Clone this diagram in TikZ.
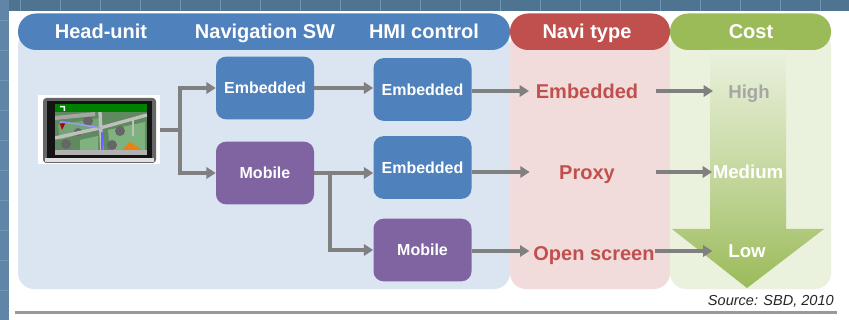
\documentclass[tikz,border=0pt]{standalone}
\usepackage{fontspec}
\setmainfont{Liberation Sans}
\usetikzlibrary{arrows.meta,calc}
\definecolor{framecol}{HTML}{5F86A6}
\definecolor{frametop}{HTML}{4F7492}
\definecolor{framelight}{HTML}{7096B4}
\definecolor{blueH}{HTML}{4F81BD}
\definecolor{blueP}{HTML}{DBE5F1}
\definecolor{redH}{HTML}{C0504D}
\definecolor{redP}{HTML}{F2DCDB}
\definecolor{greenH}{HTML}{9BBB59}
\definecolor{greenP}{HTML}{EAF1DD}
\definecolor{purp}{HTML}{8064A2}
\definecolor{conn}{HTML}{808080}
\tikzset{
  x=0.75pt,y=-0.75pt,
  header/.style={text=white,font=\bfseries\fontsize{15}{18}\selectfont,inner sep=0pt,text height=10.8pt,text depth=3.2pt},
  boxnode/.style={rounded corners=7.5pt,text=white,font=\bfseries\fontsize{12}{14}\selectfont,
    minimum width=73.5pt,minimum height=47pt,inner sep=0pt,text height=8.6pt,text depth=0pt},
  bluebox/.style={boxnode,fill=blueH},
  purplebox/.style={boxnode,fill=purp},
  navitext/.style={text=redH,font=\bfseries\fontsize{15}{18}\selectfont,inner sep=0pt,text height=10.8pt,text depth=0pt},
  costtext/.style={text=white,font=\bfseries\fontsize{14}{18}\selectfont,inner sep=0pt,text height=10pt,text depth=0pt},
  conline/.style={draw=conn,line width=2.3pt},
  conarrow/.style={conline,-{Triangle[length=7pt,width=8.5pt]}},
}
\begin{document}
\begin{tikzpicture}
\useasboundingbox (0,0) rectangle (849,320);
% page frame
\fill[white] (0,0) rectangle (849,320);
\fill[frametop] (0,0) rectangle (849,11);
\fill[framecol] (0,0) rectangle (9,320);
\foreach \xx in {20,60,...,840} \draw[framelight,line width=0.4pt] (\xx,0) -- (\xx,11);
\foreach \yy in {20,50,...,320} \draw[framelight,line width=0.4pt] (0,\yy) -- (9,\yy);
% panels
\fill[blueP,rounded corners=12pt] (18,30) rectangle (510,289);
\fill[redP,rounded corners=12pt] (510,30) rectangle (670,289);
\fill[greenP,rounded corners=12pt] (670,30) rectangle (831,289);
% headers
\fill[blueH,rounded corners=13.5pt] (18,13.5) rectangle (510,50);
\fill[redH,rounded corners=13.5pt] (510,13.5) rectangle (670,50);
\fill[greenH,rounded corners=13.5pt] (670,13.5) rectangle (831,50);
% cost arrow
\shade[top color=greenP,bottom color=greenH,middle color=greenH!45!greenP]
  (710,50) -- (786,50) -- (786,229) -- (824,229) -- (747,288) -- (672,229) -- (710,229) -- cycle;
% head titles
\node[header] (t1) at (101,33.5) {Head-unit};
\node[header] (t2) at (265,33.5) {Navigation SW};
\node[header] (t3) at (424,33.5) {HMI control};
\node[header] (t4) at (587,33.5) {Navi type};
\node[header] (t5) at (751,33.5) {Cost};
% head-unit picture
\node[fill=white,minimum width=91.5pt,minimum height=51.75pt,inner sep=0pt] (hu) at (99,130) {};
\fill[black!60,rounded corners=2.5pt] (43,98) rectangle (156,163);
\fill[black!12] (45,158) rectangle (154,162);
\fill[black!92] (47,101) rectangle (152,158);
\begin{scope}
\clip (55,104) rectangle (147,155);
\fill[black!35!green!25!gray] (55,104) rectangle (147,155);
\fill[green!35!black!55] (58,125) -- (100,118) -- (100,128) -- (60,140) -- cycle;
\fill[green!40!black!50] (108,130) -- (145,122) -- (145,150) -- (110,150) -- cycle;
\fill[green!40!black!50] (80,140) -- (98,136) -- (98,150) -- (80,150) -- cycle;
\fill[orange!70!brown] (120,152) -- (130,142) -- (142,150) -- (138,155) -- (122,155) -- cycle;
\fill[red!70!black] (60,124) -- (66,122) -- (62,130) -- cycle;
\fill[black!60] (66,144) circle[radius=5];
\fill[black!60] (78,132) circle[radius=4];
\fill[black!60] (120,131) circle[radius=5];
\fill[black!60] (112,145) circle[radius=5];
\fill[black!60] (88,121) circle[radius=5];
\draw[black!25,line width=2.5pt] (55,138) -- (100,128) -- (147,115);
\draw[black!25,line width=2.5pt] (100,112) -- (102,155);
\draw[black!25,line width=1.2pt] (133,120) -- (133,136);
\draw[blue!40!white,line width=1.2pt] (60,122) -- (78,124) -- (100,128);
\draw[blue!60!white,line width=1.5pt] (102,132) -- (102,152);
\fill[black!35] (55,116) -- (95,112) -- (95,116) -- (55,120) -- cycle;
\fill[black!30] (55,150) rectangle (147,155);
\fill[green!50!black] (55,104) rectangle (147,112);
\fill[white] (60,106) -- (65,106) -- (65,111) -- (63.5,111) -- (63.5,107.5) -- (60,107.5) -- cycle;
\end{scope}
% boxes
\node[bluebox] (ne) at (265,88) {Embedded};
\node[purplebox] (nm) at (265,173) {Mobile};
\node[bluebox] (he) at (422.5,89.5) {Embedded};
\node[bluebox] (hp) at (422.5,167.5) {Embedded};
\node[purplebox] (hm) at (422.5,250) {Mobile};
% navi type and cost labels
\node[navitext] (ve) at (587,91) {Embedded};
\node[navitext] (vp) at (587,172) {Proxy};
\node[navitext] (vo) at (594,253) {Open screen};
\node[costtext,text=black!35] (ch) at (749,92) {High};
\node[costtext] (cm) at (748,172) {Medium};
\node[costtext] (cl) at (747,251) {Low};
% connectors
\coordinate (b1) at (180,130);
\coordinate (b2) at (330,172);
\draw[conline] (hu.east) -- (b1);
\draw[conarrow] (b1) |- (ne.west);
\draw[conarrow] (b1) |- (nm.west);
\draw[conarrow] (ne.east) -- (he.west |- ne.east);
\draw[conarrow] (nm.east) -- (hp.west |- nm.east);
\draw[conarrow] (b2) |- (hm.west);
\draw[conarrow] (he.east |- ve) -- ([xshift=-43.5pt]ve.center);
\draw[conarrow] (hp.east |- cm) -- ([xshift=-43pt]vp.center |- cm);
\draw[conarrow] (hm.east |- cl) -- ([xshift=-48.5pt]vo.center |- cl);
\draw[conarrow] ([xshift=52pt]ve.center) -- ([xshift=-27pt]ch.center |- ve);
\draw[conarrow] ([xshift=52pt]vp.center |- cm) -- ([xshift=-27pt]cm.center);
\draw[conarrow] (vo.east |- cl) -- ([xshift=-26pt]cl.center);
% source and rule
\node[font=\itshape\fontsize{10.9}{13}\selectfont,text=black!85,inner sep=0pt,anchor=east] (src) at (834,301) {Source: SBD, 2010};
\fill[black!40] (15,311) rectangle (837,314);
\end{tikzpicture}
\end{document}
